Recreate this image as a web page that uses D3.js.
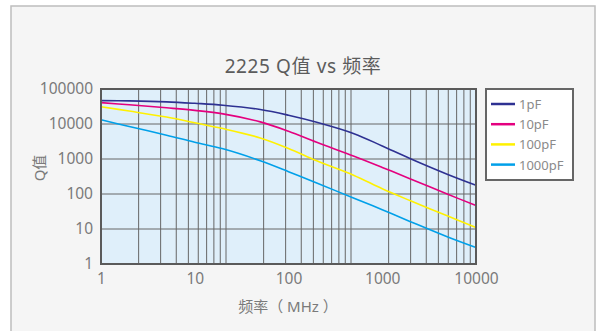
<!DOCTYPE html>
<html><head><meta charset="utf-8">
<script src="https://cdn.jsdelivr.net/npm/d3@7"></script>
<style>html,body{margin:0;padding:0;background:#fff;}svg{display:block;}</style>
</head><body>
<script>
const freqs = [1, 2, 5, 10, 20, 50, 100, 200, 500, 1000, 2000, 5000, 10000];
const q1pF    = [46400, 45700, 43000, 39000, 34500, 26000, 17800, 11200, 5300, 2350, 1020, 363, 178];
const q10pF   = [40700, 35500, 29000, 24500, 19500, 11500, 6200, 3000, 1200, 575, 270, 98, 47];
const q100pF  = [31000, 23400, 15800, 10800, 7400, 4000, 2000, 890, 340, 141, 64, 23.4, 11];
const q1000pF = [13200, 8500, 4800, 3000, 1950, 890, 435, 205, 76, 35.5, 16.2, 5.9, 2.95];
const seriesNames = ["1pF", "10pF", "100pF", "1000pF"];
const seriesColors = ["#2e3192", "#e4007f", "#fff100", "#00a0e9"];
const xTickLabels = [1, 10, 100, 1000, 10000];
const yTickLabels = [1, 10, 100, 1000, 10000, 100000];
const titleText = "2225 Q值 vs 频率";
const xTitle = "频率（ MHz ）";
const yTitle = "Q值";

const W = 597, H = 331;
const L = 101, R = 476, T = 89, B = 264;
const svg = d3.select("body").append("svg").attr("width", W).attr("height", H);
const font = "'Noto Sans','Noto Sans CJK SC',sans-serif";

svg.append("rect").attr("x", 11).attr("y", 6).attr("width", 584).attr("height", 340)
  .attr("fill", "#f5f5f5").attr("stroke", "#bdbdbd").attr("stroke-width", 1.5);

const x = d3.scaleLog().domain([1, 10000]).range([L, R]);
const xGrid = d3.scaleLog().domain([1, 1000]).range([L, R]);
const y = d3.scaleLog().domain([1, 100000]).range([B, T]);

svg.append("rect").attr("x", L).attr("y", T).attr("width", R - L).attr("height", B - T)
  .attr("fill", "#dfeffa");

// vertical grid (as drawn in the reference)
const vTicks = [];
for (let d = 1; d < 1000; d *= 10) for (let m = 2; m <= 10; m++) vTicks.push(d * m);
svg.append("g").selectAll("line").data(vTicks).join("line")
  .attr("x1", d => xGrid(d)).attr("x2", d => xGrid(d)).attr("y1", T).attr("y2", B)
  .attr("stroke", "#666").attr("stroke-width", 1);
svg.append("g").selectAll("line").data(yTickLabels.slice(1, -1)).join("line")
  .attr("x1", L).attr("x2", R).attr("y1", d => y(d)).attr("y2", d => y(d))
  .attr("stroke", "#666").attr("stroke-width", 1);

const line = d3.line().x((d, i) => x(freqs[i])).y(d => y(d)).curve(d3.curveCatmullRom.alpha(0.5));
[q1pF, q10pF, q100pF, q1000pF].forEach((s, k) => {
  svg.append("path").datum(s).attr("d", line).attr("fill", "none")
    .attr("stroke", seriesColors[k]).attr("stroke-width", 1.6);
});

svg.append("rect").attr("x", L).attr("y", T).attr("width", R - L).attr("height", B - T)
  .attr("fill", "none").attr("stroke", "#5a5a5a").attr("stroke-width", 2);

// axes labels
const yAxis = d3.axisLeft(y).tickValues(yTickLabels).tickFormat(d3.format("d")).tickSize(0).tickPadding(8);
const gy = svg.append("g").attr("transform", `translate(${L},0)`).call(yAxis);
gy.select(".domain").remove();
gy.selectAll("text").attr("font-family", font).attr("font-size", 15.5).attr("fill", "#7a7a7a");

const xAxis = d3.axisBottom(x).tickValues(xTickLabels).tickFormat(d3.format("d")).tickSize(0).tickPadding(9);
const gx = svg.append("g").attr("transform", `translate(0,${B})`).call(xAxis);
gx.select(".domain").remove();
gx.selectAll("text").attr("font-family", font).attr("font-size", 15.5).attr("fill", "#7a7a7a");

svg.append("text").attr("x", 303).attr("y", 73).attr("text-anchor", "middle")
  .attr("font-family", font).attr("font-size", 19).attr("letter-spacing", 0.6).attr("fill", "#5c5c5c").text(titleText);
svg.append("text").attr("x", 288).attr("y", 312).attr("text-anchor", "middle")
  .attr("font-family", font).attr("font-size", 15).attr("fill", "#7a7a7a").attr("xml:space", "preserve")
  .style("white-space", "pre").text(xTitle);
svg.append("text").attr("transform", "translate(45,168) rotate(-90)").attr("text-anchor", "middle")
  .attr("font-family", font).attr("font-size", 15).attr("fill", "#7a7a7a").text(yTitle);

// legend
const lg = svg.append("g");
lg.append("rect").attr("x", 486).attr("y", 89).attr("width", 87).attr("height", 91)
  .attr("fill", "#fff").attr("stroke", "#666").attr("stroke-width", 2);
seriesNames.forEach((n, i) => {
  const yy = 104 + i * 20.2;
  lg.append("line").attr("x1", 491).attr("x2", 515).attr("y1", yy).attr("y2", yy)
    .attr("stroke", seriesColors[i]).attr("stroke-width", 2.5);
  lg.append("text").attr("x", 519).attr("y", yy + 5).attr("font-family", font).attr("font-size", 13)
    .attr("fill", "#8a8a8a").text(n);
});
</script>
</body></html>
